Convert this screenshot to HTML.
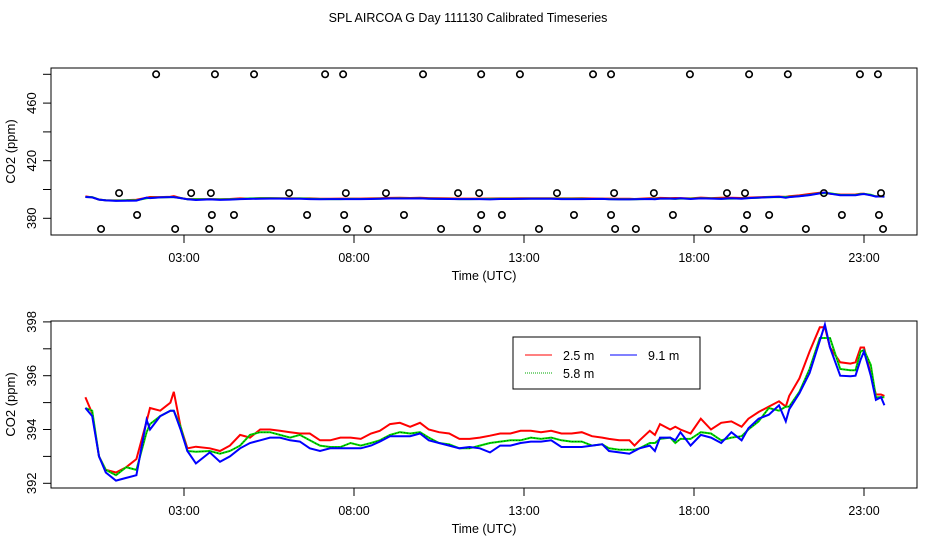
<!DOCTYPE html>
<html><head><meta charset="utf-8"><style>
body{margin:0;background:#fff;width:936px;height:540px;overflow:hidden}
svg{font-family:"Liberation Sans",sans-serif}
</style></head><body>
<svg id="c" width="936" height="540" xmlns="http://www.w3.org/2000/svg">
<text x="468" y="22" text-anchor="middle" font-size="12.5">SPL AIRCOA G  Day 111130  Calibrated Timeseries</text>
</svg>
<script>
const hours=[0.1,0.3,0.5,0.7,1.0,1.3,1.6,1.9,2.0,2.3,2.6,2.7,2.9,3.1,3.35,3.76,4.06,4.35,4.65,4.94,5.24,5.53,5.82,6.12,6.41,6.7,7.0,7.3,7.6,7.9,8.2,8.5,8.76,9.06,9.35,9.65,9.94,10.2,10.5,10.8,11.1,11.4,11.7,12.0,12.3,12.6,12.9,13.2,13.5,13.8,14.1,14.4,14.7,15.0,15.3,15.5,15.8,16.1,16.25,16.4,16.7,16.85,17.0,17.3,17.45,17.6,17.9,18.2,18.5,18.8,19.1,19.4,19.6,19.9,20.2,20.5,20.7,20.8,21.1,21.4,21.7,21.85,22.0,22.3,22.6,22.75,22.9,23.0,23.2,23.35,23.5,23.6];
const red=[395.2,394.6,393.0,392.5,392.4,392.6,392.9,394.3,394.8,394.7,395.0,395.4,394.1,393.3,393.36,393.3,393.2,393.4,393.8,393.7,394.0,394.0,393.95,393.9,393.85,393.85,393.6,393.6,393.7,393.7,393.65,393.85,393.95,394.2,394.25,394.1,394.25,394.0,393.9,393.85,393.65,393.65,393.7,393.77,393.85,393.85,393.95,393.95,393.9,393.95,393.85,393.85,393.9,393.75,393.7,393.65,393.6,393.6,393.4,393.6,393.95,393.8,394.2,394.0,394.1,394.0,393.85,394.4,394.0,394.25,394.3,394.1,394.4,394.65,394.85,395.05,394.85,395.25,395.9,396.9,397.8,397.8,397.05,396.5,396.45,396.5,397.05,397.05,396.05,395.3,395.3,395.25];
const green=[394.8,394.7,393.0,392.5,392.3,392.6,392.5,393.9,394.2,394.5,394.7,394.7,394.1,393.2,393.17,393.2,393.1,393.2,393.4,393.8,393.9,393.9,393.8,393.7,393.8,393.6,393.4,393.35,393.35,393.5,393.4,393.5,393.6,393.8,393.9,393.85,393.9,393.7,393.5,393.45,393.3,393.3,393.4,393.5,393.55,393.6,393.6,393.7,393.65,393.7,393.6,393.55,393.55,393.4,393.45,393.3,393.25,393.25,393.25,393.3,393.5,393.5,393.65,393.7,393.5,393.65,393.65,393.9,393.85,393.6,393.7,393.75,394.0,394.3,394.8,394.7,394.85,394.85,395.4,396.25,397.4,397.4,397.4,396.25,396.2,396.2,396.9,396.95,396.4,395.2,395.2,395.2];
const blue=[394.8,394.5,393.0,392.4,392.1,392.2,392.3,394.36,394.0,394.5,394.7,394.7,394.0,393.2,392.74,393.15,392.8,393.0,393.3,393.5,393.6,393.7,393.7,393.6,393.55,393.3,393.2,393.3,393.3,393.3,393.3,393.4,393.55,393.75,393.75,393.75,393.85,393.6,393.5,393.4,393.3,393.35,393.3,393.15,393.4,393.4,393.5,393.55,393.55,393.6,393.35,393.35,393.35,393.4,393.45,393.2,393.15,393.1,393.2,393.3,393.4,393.2,393.7,393.7,393.6,393.9,393.4,393.8,393.7,393.5,393.9,393.6,394.05,394.4,394.55,394.9,394.3,394.75,395.35,396.1,397.3,397.9,397.05,396.0,395.98,396.0,396.6,396.9,396.0,395.1,395.2,394.9];
const outHours=[2.18,3.91,5.06,7.15,7.68,10.03,11.74,12.88,15.03,15.56,17.88,19.62,20.76,22.88,23.41,
1.09,3.21,3.79,6.09,7.76,8.94,11.06,11.68,13.97,15.65,16.82,18.97,19.5,21.82,23.5,
1.62,3.82,4.47,6.62,7.71,9.47,11.74,12.35,14.47,15.56,17.38,19.56,20.21,22.35,23.44,
0.56,2.74,3.74,5.56,7.79,8.41,10.56,11.62,13.44,15.68,16.29,18.41,19.47,21.29,23.56];
const outVals=[480,480,480,480,480,480,480,480,480,480,480,480,480,480,480,
397.5,397.5,397.5,397.5,397.5,397.5,397.5,397.5,397.5,397.5,397.5,397.5,397.5,397.5,397.5,
382.3,382.3,382.3,382.3,382.3,382.3,382.3,382.3,382.3,382.3,382.3,382.3,382.3,382.3,382.3,
372.6,372.6,372.6,372.6,372.6,372.6,372.6,372.6,372.6,372.6,372.6,372.6,372.6,372.6,372.6];
const xTicks=[3,8,13,18,23];
const xTickLabels=["03:00","08:00","13:00","18:00","23:00"];
const topTicks=[380,400,420,440,460,480];
const topTickLabels=["380","","420","","460",""];
const botTicks=[392,393,394,395,396,397,398];
const botTickLabels=["392","","394","","396","","398"];

const NS="http://www.w3.org/2000/svg";
const svg=document.getElementById('c');
function mk(t,a,p){const e=document.createElementNS(NS,t);for(const k in a)e.setAttribute(k,a[k]);(p||svg).appendChild(e);return e;}
const X=h=>82+34*h;
const L=51,R=917;
function panel(top,bot,Y,ticks,labels,name){
  const g=mk('g',{});
  
  
  const box=mk('rect',{x:L,y:top,width:R-L,height:bot-top,fill:'none',stroke:'#000','stroke-width':1},g);
  
  
  ticks.forEach((v,i)=>{
    const y=Y(v);
    const t=mk('line',{x1:L-8,x2:L,y1:y,y2:y,stroke:'#000'},g);
    
    
    if(labels[i]){
      const tx=mk('text',{x:36,y:y,'font-size':13,'text-anchor':'middle',transform:`rotate(-90 36 ${y})`},g);
      tx.textContent=labels[i];
      
      
    }
  });
  xTicks.forEach((h,i)=>{
    const x=X(h);
    const t=mk('line',{x1:x,x2:x,y1:bot,y2:bot+8,stroke:'#000'},g);
    
    
    const tx=mk('text',{x:x,y:bot+27,'font-size':12.5,'text-anchor':'middle'},g);
    tx.textContent=xTickLabels[i];
    
    
  });
  const xt=mk('text',{x:484,y:bot+45,'font-size':12.5,'text-anchor':'middle'},g);
  xt.textContent='Time (UTC)';
  
  
  const ym=(top+bot)/2;
  const yt=mk('text',{x:15,y:ym,'font-size':13,'text-anchor':'middle',transform:`rotate(-90 15 ${ym})`},g);
  yt.textContent='CO2 (ppm)';
  
  
  [[red,'#f00','red'],[green,'#0d0','green'],[blue,'#00f','blue']].forEach(([s,c,n])=>{
    const d=s.map((v,i)=>(i?'L':'M')+X(hours[i]).toFixed(1)+','+Y(v).toFixed(1)).join(' ');
    const p=mk('path',{d:d,fill:'none',stroke:c,'stroke-width':2},g);
    
    
    if(n==='green'){const p2=mk('path',{d:d,fill:'none',stroke:'#000','stroke-width':0.6,'stroke-dasharray':'1 2'},g);
      
      }
  });
  return g;
}
const Yt=v=>218.3-(v-380)*1.44;
const gt=panel(68,235,Yt,topTicks,topTickLabels,'top-panel');
outHours.forEach((h,i)=>{
  const c=mk('circle',{cx:X(h),cy:Yt(outVals[i]),r:3.2,fill:'none',stroke:'#000','stroke-width':1.6},gt);
  
  
});
const Yb=v=>483.3-(v-392)*26.9;
const gb=panel(321,488,Yb,botTicks,botTickLabels,'bottom-panel');
const lg=mk('g',{});


const lb=mk('rect',{x:513,y:337,width:187,height:52,fill:'#fff',stroke:'#000'},lg);


[[525,355,'#f00','2.5 m',0],[610,355,'#00f','9.1 m',0],[525,373,'#0a0','5.8 m',1]].forEach(([x,y,c,t,dot])=>{
  const l=mk('line',{x1:x,x2:x+27,y1:y,y2:y,stroke:c,'stroke-width':1,'stroke-dasharray':dot?'1 1':'none'},lg);
  
  
  const tx=mk('text',{x:x+38,y:y+5,'font-size':12.5},lg);
  tx.textContent=t;
  
  
});
</script>
</body></html>
